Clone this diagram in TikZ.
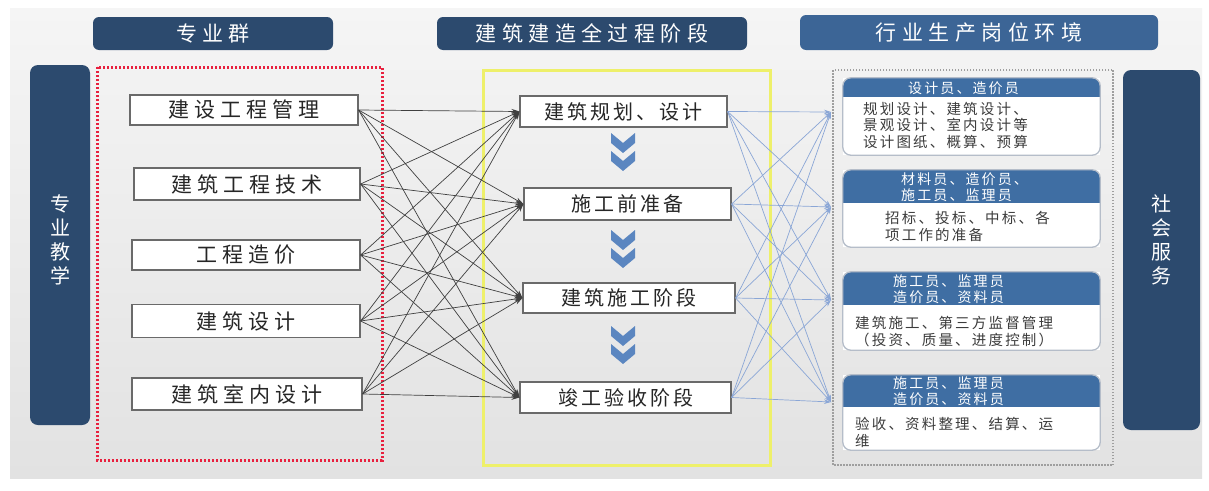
\documentclass[tikz,border=0pt]{standalone}
\usepackage{fontspec}
\setmainfont{Noto Sans CJK SC}
\newfontfamily\tfont[LetterSpace=26]{Noto Sans CJK SC}
\newfontfamily\lfont[LetterSpace=24]{Noto Sans CJK SC}
\newfontfamily\mfont[LetterSpace=15]{Noto Sans CJK SC}
\newfontfamily\rfont[LetterSpace=15]{Noto Sans CJK SC}
\usetikzlibrary{arrows.meta}
\definecolor{navy}{HTML}{2C4A6E}
\definecolor{steel}{HTML}{3C6596}
\definecolor{hdrblue}{HTML}{3F6EA3}
\definecolor{chev}{HTML}{5B86C0}
\definecolor{bluearrow}{HTML}{8AA6D6}
\definecolor{boxline}{HTML}{6A6A6A}
\definecolor{rline}{HTML}{B5BDC9}
\definecolor{txt}{HTML}{262626}
\definecolor{redline}{HTML}{E8203E}
\definecolor{yelline}{HTML}{EEF06A}
\definecolor{bgtop}{HTML}{F5F5F5}
\definecolor{bgbot}{HTML}{E2E2E2}
\tikzset{
  titlebar/.style={fill=navy, rounded corners=6pt, text=white, inner sep=0pt,
    font=\tfont\fontsize{21}{24}\selectfont},
  sidebar/.style={fill=navy, rounded corners=8pt, inner sep=0pt},
  sidetext/.style={text=white, align=center, inner sep=0pt,
    font=\fontsize{20}{24}\selectfont},
  major/.style={draw=boxline, line width=1.2pt, fill=white, text=txt, inner sep=0pt,
    font=\lfont\fontsize{21}{24}\selectfont},
  stagebox/.style={draw=boxline, line width=1.2pt, fill=white, text=txt, inner sep=0pt,
    font=\mfont\fontsize{20}{24}\selectfont},
  cardbox/.style={fill=white, inner sep=0pt, minimum width=257pt},
  hdrtxt/.style={text=white, align=left, anchor=west, inner sep=0pt,
    font=\rfont\fontsize{14}{16.5}\selectfont},
  bodytxt/.style={text=txt!90, align=left, anchor=west, inner sep=0pt,
    font=\rfont\fontsize{14.5}{16.5}\selectfont},
  blk/.style={-{Stealth[length=8pt,width=5pt]}, line width=0.7pt, draw=black!75},
  blu/.style={-{Stealth[length=7pt,width=4.5pt]}, line width=0.7pt, draw=bluearrow},
}
\newcommand\chevshape[2]{\fill[chev,shift={(#1,#2)}] (-12,0) -- (0,10) -- (12,0) -- (12,10) -- (0,20) -- (-12,10) -- cycle;}
\newcommand\rcard[4]{%
  \node[cardbox, minimum height={#3-#2}] (#1) at (971.5,{(#2+#3)/2}) {};
  \begin{scope}
    \clip[rounded corners=8pt] (843,#2) rectangle (1100,#3);
    \fill[hdrblue] (843,#2) rectangle (1100,#4);
  \end{scope}
  \draw[rline, line width=1.3pt, rounded corners=8pt] (#1.north west) rectangle (#1.south east);
}
\begin{document}
\begin{tikzpicture}[x=1pt,y=-1pt]
\useasboundingbox (0,0) rectangle (1209,490);
\fill[white] (0,0) rectangle (1209,490);
\shade[top color=bgtop, bottom color=bgbot] (10,8) rectangle (1202,478);

% title bars
\node[titlebar, minimum width=240pt, minimum height=33pt] (t1) at (213,33.5) {专业群};
\node[titlebar, minimum width=310pt, minimum height=33pt] (t2) at (592,33.5) {建筑建造全过程阶段};
\node[titlebar, fill=steel, minimum width=358pt, minimum height=35pt] (t3) at (979,32.5) {行业生产岗位环境};

% side bars
\node[sidebar, minimum width=60pt, minimum height=360pt] (sb1) at (60,245) {};
\node[sidetext] (sb1t) at (60,240) {专\\业\\教\\学};
\node[sidebar, minimum width=77pt, minimum height=360pt] (sb2) at (1161.5,250) {};
\node[sidetext] (sb2t) at (1161.5,240) {社\\会\\服\\务};

% group frames
\draw[redline, line width=3pt, dash pattern=on 2.2pt off 1.8pt] (97,67) rectangle (382,460);
\draw[yelline, line width=3pt] (483,70) rectangle (770,465);
\draw[gray!75, line width=2pt, dash pattern=on 1.5pt off 1.5pt] (833,70) rectangle (1113,465);

% majors
\node[major, minimum width=228pt, minimum height=30pt] (L1) at (244,110) {建设工程管理};
\node[major, minimum width=226pt, minimum height=32pt] (L2) at (247,184) {建筑工程技术};
\node[major, minimum width=228pt, minimum height=30pt] (L3) at (246,255) {工程造价};
\node[major, minimum width=228pt, minimum height=33pt] (L4) at (246,321) {建筑设计};
\node[major, minimum width=230pt, minimum height=32pt] (L5) at (247,394) {建筑室内设计};

% stages
\node[stagebox, minimum width=207pt, minimum height=31pt] (M1) at (623.5,111.5) {建筑规划、设计};
\node[stagebox, minimum width=207pt, minimum height=32pt] (M2) at (627.5,204) {施工前准备};
\node[stagebox, minimum width=212pt, minimum height=30pt] (M3) at (629,298) {建筑施工阶段};
\node[stagebox, minimum width=211pt, minimum height=31pt] (M4) at (625.5,397.5) {竣工验收阶段};

% chevrons
\chevshape{623}{133}\chevshape{623}{151}
\chevshape{623}{230}\chevshape{623}{248}
\chevshape{623}{326}\chevshape{623}{344}

% cards
\rcard{R1}{78}{155}{97}
\rcard{R2}{170}{247}{203}
\rcard{R3}{272}{350}{305}
\rcard{R4}{375}{450}{407}
\node[hdrtxt] (R1h) at (908,88) {设计员、造价员};
\node[bodytxt] (R1b) at (863,125) {规划设计、建筑设计、\\景观设计、室内设计等\\设计图纸、概算、预算};
\node[hdrtxt] (R2h) at (901,187) {材料员、造价员、\\施工员、监理员};
\node[bodytxt] (R2b) at (885,226.5) {招标、投标、中标、各\\项工作的准备};
\node[hdrtxt] (R3h) at (893,289) {施工员、监理员\\造价员、资料员};
\node[bodytxt] (R3b) at (855,331.5) {建筑施工、第三方监督管理\\（投资、质量、进度控制）};
\node[hdrtxt] (R4h) at (893,391) {施工员、监理员\\造价员、资料员};
\node[bodytxt] (R4b) at (855,432.5) {验收、资料整理、结算、运\\维};

% arrow end points on the card frame
\coordinate (E1) at (831,112);
\coordinate (E2) at (831,207);
\coordinate (E3) at (831,300);
\coordinate (E4) at (831,402);

% black connectors
\foreach \i in {1,...,5}{
  \foreach \j in {1,...,4}{
    \draw[blk] (L\i.east) -- (M\j.west);
  }
}
% blue connectors
\foreach \i in {1,...,4}{
  \foreach \j in {1,...,4}{
    \draw[blu] (M\i.east) -- (E\j);
  }
}
\end{tikzpicture}
\end{document}
